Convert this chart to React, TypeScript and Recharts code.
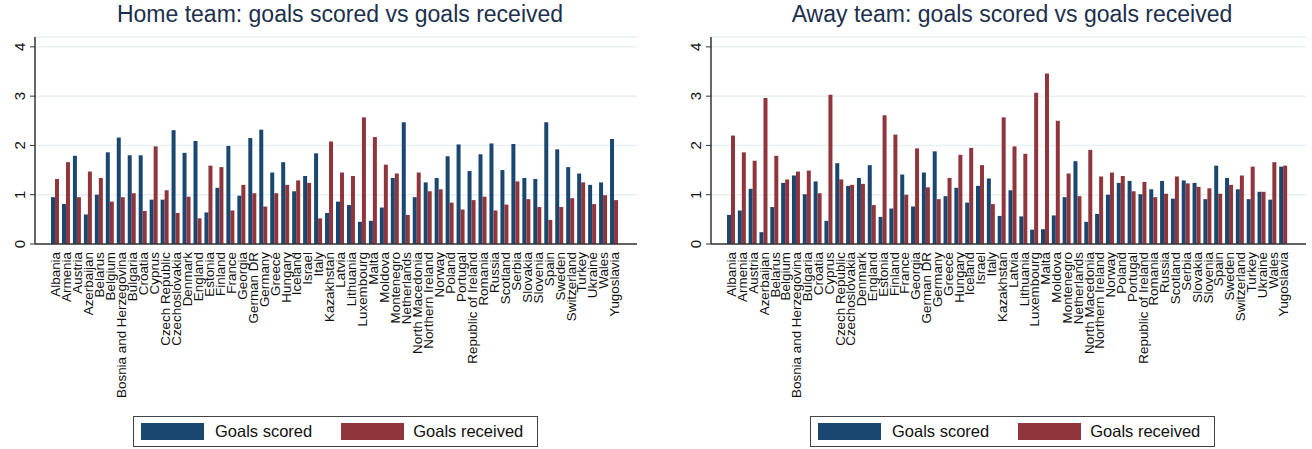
import React from 'react';
import { BarChart, Bar, XAxis, YAxis, CartesianGrid, Legend } from 'recharts';

const countries = [
  'Albania', 'Armenia', 'Austria', 'Azerbaijan', 'Belarus', 'Belgium', 'Bosnia and Herzegovina',
  'Bulgaria', 'Croatia', 'Cyprus', 'Czech Republic', 'Czechoslovakia', 'Denmark', 'England',
  'Estonia', 'Finland', 'France', 'Georgia', 'German DR', 'Germany', 'Greece', 'Hungary',
  'Iceland', 'Israel', 'Italy', 'Kazakhstan', 'Latvia', 'Lithuania', 'Luxembourg', 'Malta',
  'Moldova', 'Montenegro', 'Netherlands', 'North Macedonia', 'Northern Ireland', 'Norway',
  'Poland', 'Portugal', 'Republic of Ireland', 'Romania', 'Russia', 'Scotland', 'Serbia',
  'Slovakia', 'Slovenia', 'Spain', 'Sweden', 'Switzerland', 'Turkey', 'Ukraine', 'Wales',
  'Yugoslavia',
];

// home games
const homeScored = [
  0.95, 0.81, 1.79, 0.60, 1.00, 1.86, 2.16, 1.80, 1.80, 0.90, 0.90, 2.31, 1.85, 2.09,
  0.64, 1.14, 1.99, 0.98, 2.15, 2.32, 1.45, 1.66, 1.07, 1.38, 1.84, 0.63, 0.86, 0.79,
  0.45, 0.47, 0.74, 1.34, 2.47, 0.95, 1.25, 1.34, 1.78, 2.02, 1.48, 1.82, 2.04, 1.50,
  2.03, 1.34, 1.32, 2.47, 1.92, 1.56, 1.43, 1.20, 1.25, 2.13,
];
const homeReceived = [
  1.32, 1.66, 0.95, 1.47, 1.34, 0.86, 0.95, 1.03, 0.67, 1.98, 1.09, 0.63, 0.96, 0.52,
  1.59, 1.56, 0.68, 1.20, 1.03, 0.76, 1.03, 1.20, 1.29, 1.24, 0.52, 2.08, 1.45, 1.38,
  2.57, 2.17, 1.61, 1.43, 0.59, 1.45, 1.07, 1.11, 0.84, 0.70, 0.89, 0.96, 0.68, 0.80,
  1.27, 0.91, 0.75, 0.49, 0.75, 0.93, 1.25, 0.81, 0.99, 0.89,
];

// away games
const awayScored = [
  0.59, 0.68, 1.12, 0.24, 0.75, 1.24, 1.39, 1.01, 1.27, 0.47, 1.64, 1.18, 1.34, 1.60,
  0.55, 0.72, 1.41, 0.76, 1.45, 1.88, 0.97, 1.14, 0.84, 1.18, 1.33, 0.57, 1.09, 0.56,
  0.29, 0.30, 0.58, 0.95, 1.68, 0.45, 0.61, 1.00, 1.24, 1.28, 1.01, 1.11, 1.28, 0.92,
  1.29, 1.24, 0.91, 1.59, 1.34, 1.11, 0.91, 1.06, 0.90, 1.57,
];
const awayReceived = [
  2.20, 1.86, 1.69, 2.96, 1.79, 1.31, 1.47, 1.49, 1.03, 3.03, 1.31, 1.20, 1.22, 0.79,
  2.61, 2.22, 1.00, 1.94, 1.15, 0.91, 1.34, 1.81, 1.95, 1.60, 0.81, 2.57, 1.98, 1.83,
  3.07, 3.46, 2.50, 1.43, 0.97, 1.91, 1.37, 1.45, 1.38, 1.07, 1.26, 0.95, 1.02, 1.37,
  1.23, 1.16, 1.13, 1.02, 1.20, 1.39, 1.57, 1.06, 1.66, 1.59,
];

const yTicks = [0, 1, 2, 3, 4];

const NAVY = '#1a476f';
const MAROON = '#90353b';
const FONT = '"Liberation Sans", Arial, sans-serif';

const buildRows = (scored: number[], received: number[]) =>
  countries.map((country, i) => ({ country, scored: scored[i], received: received[i] }));

const CountryTick = (props: any) => {
  const { x, y, payload } = props;
  return (
    <text
      transform={`translate(${x},${y}) rotate(-90)`}
      x={0}
      y={0}
      dy="0.36em"
      textAnchor="end"
      fontSize={13.4}
      fill="#111"
      fontFamily={FONT}
    >
      {payload.value}
    </text>
  );
};

const ValueTick = (props: any) => {
  const { x, y, payload } = props;
  return (
    <text
      transform={`translate(${x - 3},${y}) rotate(-90)`}
      textAnchor="middle"
      fontSize={15}
      fill="#111"
      fontFamily={FONT}
    >
      {payload.value}
    </text>
  );
};

const LegendBox = () => (
  <div
    style={{
      width: 405,
      height: 31,
      border: '1px solid #444',
      background: '#fff',
      display: 'flex',
      alignItems: 'center',
      fontFamily: FONT,
      fontSize: 16.5,
      color: '#111',
      boxSizing: 'border-box',
    }}
  >
    <span style={{ width: 63, height: 17, background: NAVY, marginLeft: 7 }} />
    <span style={{ marginLeft: 11 }}>Goals scored</span>
    <span style={{ width: 63, height: 17, background: MAROON, marginLeft: 29 }} />
    <span style={{ marginLeft: 9 }}>Goals received</span>
  </div>
);

type PanelProps = {
  title: string;
  rows: { country: string; scored: number; received: number }[];
  marginLeft: number;
  marginRight: number;
  titleX: number;
  legendX: number;
};

const Panel = ({ title, rows, marginLeft, marginRight, titleX, legendX }: PanelProps) => (
  <div style={{ position: 'relative', width: 656, height: 449 }}>
    <div
      style={{
        position: 'absolute',
        top: 1,
        left: titleX,
        fontFamily: FONT,
        fontSize: 23,
        color: '#1c2f4d',
        whiteSpace: 'nowrap',
        transform: 'translateX(-50%)',
      }}
    >
      {title}
    </div>
    <BarChart
      width={656}
      height={449}
      data={rows}
      margin={{ top: 37, right: marginRight, bottom: 0, left: marginLeft }}
      barGap={0}
      barSize={4}
    >
      <CartesianGrid vertical={false} stroke="#e8f0f2" strokeWidth={1.5} />
      <XAxis
        dataKey="country"
        interval={0}
        height={205}
        tick={<CountryTick />}
        tickLine={false}
        axisLine={{ stroke: '#333', strokeWidth: 1.5 }}
        padding={{ left: 15, right: 17 }}
      />
      <YAxis
        width={35}
        domain={[0, 4.2]}
        ticks={yTicks}
        tick={<ValueTick />}
        tickSize={5}
        tickLine={{ stroke: '#333' }}
        axisLine={{ stroke: '#333', strokeWidth: 1.5 }}
      />
      <Legend
        layout="horizontal"
        verticalAlign="middle"
        align="center"
        wrapperStyle={{ left: legendX, top: 416, width: 405 }}
        content={() => <LegendBox />}
      />
      <Bar dataKey="scored" name="Goals scored" fill={NAVY} isAnimationActive={false} />
      <Bar dataKey="received" name="Goals received" fill={MAROON} isAnimationActive={false} />
    </BarChart>
  </div>
);

export default function App() {
  return (
    <div
      style={{
        position: 'absolute',
        left: 0,
        top: 0,
        width: 1312,
        height: 449,
        background: '#fff',
        display: 'flex',
      }}
    >
      <Panel
        title="Home team: goals scored vs goals received"
        rows={buildRows(homeScored, homeReceived)}
        marginLeft={0}
        marginRight={19}
        titleX={340}
        legendX={133}
      />
      <Panel
        title="Away team: goals scored vs goals received"
        rows={buildRows(awayScored, awayReceived)}
        marginLeft={20}
        marginRight={6}
        titleX={356}
        legendX={154}
      />
    </div>
  );
}
